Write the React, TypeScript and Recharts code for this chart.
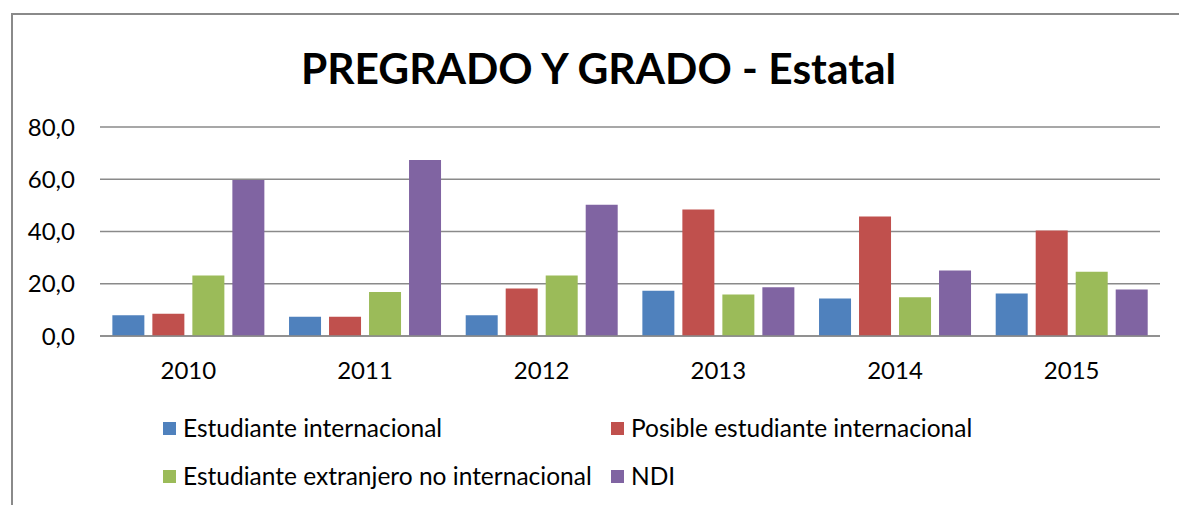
import React from "react";
import { BarChart, Bar, XAxis, YAxis, CartesianGrid, Legend } from "recharts";

const years = ["2010", "2011", "2012", "2013", "2014", "2015"];
const estudianteInternacional = [7.9, 7.4, 7.9, 17.3, 14.4, 16.3];
const posibleEstudiante = [8.5, 7.4, 18.2, 48.4, 45.7, 40.4];
const extranjeroNoInternacional = [23.2, 16.8, 23.2, 15.9, 14.8, 24.6];
const ndi = [59.7, 67.4, 50.2, 18.7, 25.1, 17.8];
const yTicks = [0, 20, 40, 60, 80];

const seriesNames = [
  "Estudiante internacional",
  "Posible estudiante internacional",
  "Estudiante extranjero no internacional",
  "NDI",
];
const seriesKeys = ["ei", "pei", "eeni", "ndi"];
const seriesColors = ["#4F81BD", "#C0504D", "#9BBB59", "#8064A2"];

const data = years.map((y, i) => ({
  year: y,
  ei: estudianteInternacional[i],
  pei: posibleEstudiante[i],
  eeni: extranjeroNoInternacional[i],
  ndi: ndi[i],
}));

const FONT = "Lato, 'Open Sans', sans-serif";

const legendPos = [
  { left: 163, top: 428 },
  { left: 611, top: 428 },
  { left: 163, top: 476 },
  { left: 611, top: 476 },
];

const LegendContent = (props: any) => {
  const payload = props.payload || [];
  return (
    <div style={{ position: "relative", width: 1179, height: 105 }}>
      {seriesKeys.map((k, i) => {
        const item = payload.find((p: any) => p.dataKey === k);
        const color = item ? item.color : seriesColors[i];
        const pos = legendPos[i];
        return (
          <div
            key={k}
            style={{
              position: "absolute",
              left: pos.left,
              top: pos.top - 400 - 15,
              height: 30,
              display: "flex",
              alignItems: "center",
              fontFamily: FONT,
              fontSize: 24.5,
              color: "#000",
              whiteSpace: "nowrap",
              lineHeight: "30px",
            }}
          >
            <span
              style={{
                display: "inline-block",
                width: 13,
                height: 13,
                background: color,
                marginRight: 7,
              }}
            />
            <span>{item ? item.value : seriesNames[i]}</span>
          </div>
        );
      })}
    </div>
  );
};

const fmt = (v: number) => v.toFixed(1).replace(".", ",");

export default function App() {
  return (
    <div
      style={{
        position: "absolute",
        left: 0,
        top: 0,
        width: 1179,
        height: 505,
        overflow: "hidden",
        background: "#fff",
      }}
    >
      <div
        style={{
          position: "absolute",
          left: 11,
          top: 13,
          width: 1250,
          height: 600,
          border: "2px solid #8a8a8a",
          boxSizing: "border-box",
        }}
      />
      <div
        style={{
          position: "absolute",
          left: 0,
          top: 40,
          width: 1197,
          textAlign: "center",
          fontFamily: FONT,
          fontWeight: 700,
          fontSize: 42.5,
          lineHeight: "56px",
          color: "#000",
        }}
      >
        PREGRADO Y GRADO - Estatal
      </div>
      <div style={{ position: "absolute", left: 0, top: 0 }}>
        <BarChart
          width={1179}
          height={505}
          data={data}
          margin={{ top: 127, right: 19, bottom: 10, left: 10 }}
          barCategoryGap="7%"
          barGap={8}
        >
          <CartesianGrid vertical={false} stroke="#8a8a8a" strokeWidth={1.3} />
          <XAxis
            dataKey="year"
            tickLine={false}
            axisLine={{ stroke: "#8a8a8a", strokeWidth: 1.3 }}
            tickSize={0}
            tickMargin={26}
            height={30}
            tick={{ fill: "#000", fontSize: 24, fontFamily: FONT }}
          />
          <YAxis
            domain={[0, 80]}
            ticks={yTicks}
            tickFormatter={fmt}
            tickLine={false}
            axisLine={false}
            tickSize={0}
            tickMargin={25}
            width={90}
            tick={{ fill: "#000", fontSize: 24, fontFamily: FONT }}
          />
          <Legend
            verticalAlign="bottom"
            height={129}
            content={<LegendContent />}
            wrapperStyle={{ top: 400, left: 0, bottom: "auto", width: 1179 }}
          />
          {seriesKeys.map((k, i) => (
            <Bar
              key={k}
              dataKey={k}
              name={seriesNames[i]}
              fill={seriesColors[i]}
              isAnimationActive={false}
            />
          ))}
        </BarChart>
      </div>
    </div>
  );
}
